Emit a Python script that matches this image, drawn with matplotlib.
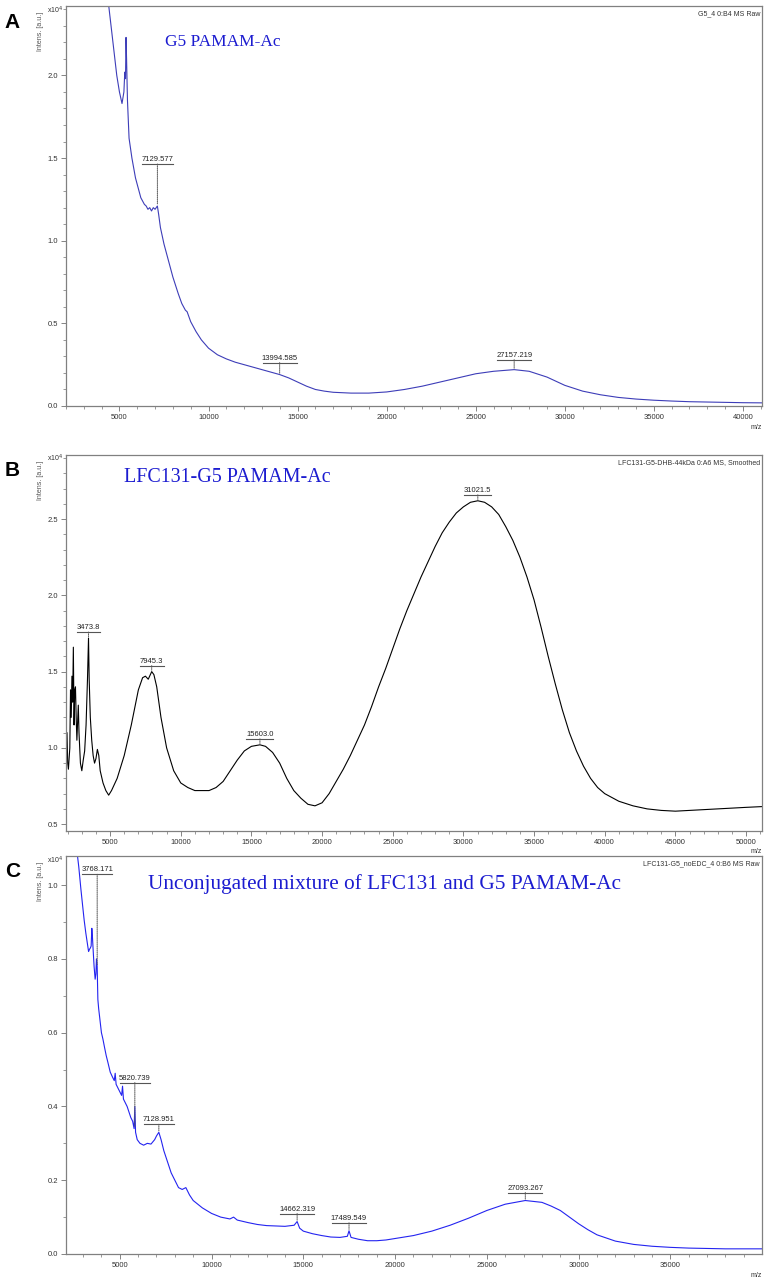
import matplotlib
matplotlib.use("Agg")
import matplotlib.pyplot as plt
import matplotlib.transforms as mtransforms
from matplotlib.ticker import MultipleLocator, FormatStrFormatter

plt.rcParams['font.family'] = ['Liberation Sans', 'DejaVu Sans']

# Panel A: G5 PAMAM-Ac (m/z, intensity x10^4)
a_points = [
    (4400, 2.42), (4550, 2.28), (4700, 2.14), (4850, 2.0), (5000, 1.9),
    (5144, 1.83), (5250, 1.9), (5300, 2.02), (5340, 1.98), (5370, 2.23),
    (5400, 2.1), (5450, 1.85), (5540, 1.62), (5700, 1.5), (5900, 1.38),
    (6000, 1.34), (6100, 1.3), (6200, 1.26), (6300, 1.24), (6400, 1.22),
    (6500, 1.21), (6600, 1.19), (6700, 1.2), (6800, 1.18), (6900, 1.2),
    (7000, 1.19), (7129, 1.21), (7200, 1.16), (7300, 1.08), (7500, 0.98),
    (7700, 0.9), (8000, 0.78), (8300, 0.68), (8500, 0.62), (8700, 0.58),
    (8800, 0.57), (9000, 0.51), (9300, 0.45), (9600, 0.4), (10000, 0.35),
    (10500, 0.31), (11000, 0.285), (11500, 0.265), (12000, 0.25), (12500, 0.235),
    (13000, 0.22), (13500, 0.205), (14000, 0.19), (14500, 0.17), (15000, 0.145),
    (15500, 0.12), (16000, 0.1), (16500, 0.09), (17000, 0.083), (18000, 0.078),
    (19000, 0.078), (20000, 0.085), (21000, 0.1), (22000, 0.12), (23000, 0.145),
    (24000, 0.17), (25000, 0.195), (26000, 0.21), (27157, 0.22), (28000, 0.21),
    (29000, 0.175), (30000, 0.125), (31000, 0.09), (32000, 0.068), (33000, 0.052),
    (34000, 0.042), (35000, 0.035), (36000, 0.03), (37000, 0.026), (38000, 0.024),
    (39000, 0.022), (40000, 0.02), (41070, 0.019),
]
a_peaks = [(7129.577, 1.21, "7129.577", 42), (13994.585, 0.19, "13994.585", 12),
           (27157.219, 0.22, "27157.219", 10)]

# Panel B: LFC131-G5 PAMAM-Ac
b_points = [
    (1880, 1.0), (1950, 1.1), (2000, 0.9), (2050, 0.86), (2150, 1.0),
    (2200, 1.38), (2250, 1.2), (2300, 1.47), (2350, 1.3), (2400, 1.66),
    (2450, 1.15), (2500, 1.38), (2550, 1.4), (2600, 1.2), (2650, 1.05),
    (2750, 1.28), (2800, 1.1), (2900, 0.9), (3000, 0.85), (3100, 0.92),
    (3200, 0.98), (3300, 1.15), (3400, 1.45), (3473, 1.72), (3520, 1.45),
    (3600, 1.2), (3700, 1.05), (3800, 0.95), (3900, 0.9), (4000, 0.93),
    (4100, 0.99), (4200, 0.95), (4300, 0.85), (4500, 0.77), (4700, 0.72),
    (4900, 0.69), (5100, 0.72), (5500, 0.8), (6000, 0.95), (6500, 1.15),
    (7000, 1.38), (7300, 1.46), (7500, 1.47), (7700, 1.45), (7945, 1.5),
    (8100, 1.48), (8300, 1.4), (8600, 1.2), (9000, 1.0), (9500, 0.85),
    (10000, 0.77), (10500, 0.74), (11000, 0.72), (11500, 0.72), (12000, 0.72),
    (12500, 0.74), (13000, 0.78), (13500, 0.85), (14000, 0.92), (14500, 0.98),
    (15000, 1.01), (15603, 1.02), (16000, 1.01), (16500, 0.97), (17000, 0.9),
    (17500, 0.8), (18000, 0.72), (18500, 0.67), (19000, 0.63), (19500, 0.62),
    (20000, 0.64), (20500, 0.7), (21000, 0.78), (21500, 0.86), (22000, 0.95),
    (22500, 1.05), (23000, 1.15), (23500, 1.27), (24000, 1.4), (24500, 1.52),
    (25000, 1.65), (25500, 1.78), (26000, 1.9), (26500, 2.01), (27000, 2.12),
    (27500, 2.22), (28000, 2.32), (28500, 2.41), (29000, 2.48), (29500, 2.54),
    (30000, 2.58), (30500, 2.61), (31021, 2.62), (31500, 2.61), (32000, 2.58),
    (32500, 2.53), (33000, 2.45), (33500, 2.36), (34000, 2.25), (34500, 2.12),
    (35000, 1.97), (35500, 1.79), (36000, 1.6), (36500, 1.42), (37000, 1.25),
    (37500, 1.1), (38000, 0.98), (38500, 0.88), (39000, 0.8), (39500, 0.74),
    (40000, 0.7), (41000, 0.65), (42000, 0.62), (43000, 0.6), (44000, 0.59),
    (45000, 0.585), (46000, 0.59), (47000, 0.595), (48000, 0.6), (49000, 0.605),
    (50000, 0.61), (51130, 0.615),
]
b_peaks = [(3473.8, 1.72, "3473.8", 6), (7945.3, 1.5, "7945.3", 6),
           (15603.0, 1.02, "15603.0", 6), (31021.5, 2.62, "31021.5", 6)]

# Panel C: unconjugated mixture
c_points = [
    (2600, 1.12), (2765, 1.05), (2880, 0.99), (2985, 0.94), (3060, 0.905),
    (3150, 0.87), (3258, 0.834), (3300, 0.82), (3350, 0.826), (3400, 0.83),
    (3440, 0.835), (3477, 0.883), (3510, 0.86), (3548, 0.825), (3600, 0.78),
    (3658, 0.745), (3700, 0.76), (3730, 0.8), (3768, 0.78), (3806, 0.69),
    (3850, 0.665), (3894, 0.646), (4000, 0.6), (4080, 0.583), (4170, 0.56),
    (4260, 0.538), (4350, 0.52), (4480, 0.493), (4600, 0.48), (4700, 0.47),
    (4750, 0.49), (4800, 0.46), (4900, 0.45), (5000, 0.44), (5100, 0.43),
    (5150, 0.455), (5200, 0.42), (5300, 0.41), (5400, 0.4), (5500, 0.385),
    (5600, 0.37), (5700, 0.36), (5780, 0.34), (5820, 0.40), (5860, 0.33),
    (5950, 0.31), (6100, 0.3), (6300, 0.295), (6500, 0.3), (6700, 0.298),
    (6900, 0.31), (7000, 0.32), (7128, 0.33), (7250, 0.31), (7400, 0.28),
    (7600, 0.25), (7800, 0.22), (8000, 0.2), (8200, 0.18), (8400, 0.175),
    (8600, 0.18), (8800, 0.16), (9000, 0.145), (9500, 0.125), (10000, 0.11),
    (10500, 0.1), (11000, 0.095), (11200, 0.1), (11400, 0.092), (12000, 0.085),
    (12500, 0.08), (13000, 0.077), (13500, 0.076), (14000, 0.075), (14500, 0.078),
    (14662, 0.088), (14800, 0.07), (15000, 0.062), (15500, 0.055), (16000, 0.05),
    (16500, 0.046), (17000, 0.045), (17400, 0.048), (17489, 0.063), (17600, 0.045),
    (18000, 0.04), (18500, 0.036), (19000, 0.036), (19500, 0.038), (20000, 0.042),
    (21000, 0.05), (22000, 0.062), (23000, 0.078), (24000, 0.097), (25000, 0.118),
    (26000, 0.135), (27093, 0.145), (28000, 0.14), (28500, 0.13), (29000, 0.118),
    (29500, 0.1), (30000, 0.082), (30500, 0.066), (31000, 0.052), (32000, 0.035),
    (33000, 0.026), (34000, 0.021), (35000, 0.018), (36000, 0.016), (37000, 0.015),
    (38000, 0.014), (39000, 0.014), (40000, 0.014),
]
c_peaks = [(3768.171, 0.78, "3768.171", 92), (5820.739, 0.34, "5820.739", 46),
           (7128.951, 0.33, "7128.951", 8), (14662.319, 0.088, "14662.319", 8),
           (17489.549, 0.063, "17489.549", 8), (27093.267, 0.145, "27093.267", 8)]

W, H = 765, 1279
fig = plt.figure(figsize=(W / 100, H / 100), dpi=100)


def make_axes(top, bottom):
    return fig.add_axes([66 / W, 1 - bottom / H, 696 / W, (bottom - top) / H])


def style(ax, xlim, ylim, ymajor, info, letter):
    ax.set_xlim(*xlim)
    ax.set_ylim(*ylim)
    ax.xaxis.set_major_locator(MultipleLocator(5000))
    ax.xaxis.set_minor_locator(MultipleLocator(1000))
    ax.yaxis.set_major_locator(MultipleLocator(ymajor))
    ax.yaxis.set_minor_locator(MultipleLocator(0.1))
    ax.yaxis.set_major_formatter(FormatStrFormatter('%.1f'))
    ax.tick_params(which='both', direction='out', color='#707070',
                   labelsize=5.5, labelcolor='#333333', pad=2)
    ax.tick_params(which='major', length=3.5, width=0.6)
    ax.tick_params(which='minor', length=2, width=0.5)
    for s in ax.spines.values():
        s.set_color('#808080')
        s.set_linewidth(0.9)
    ax.text(0.997, 0.99, info, transform=ax.transAxes, ha='right', va='top',
            fontsize=5, color='#333333')
    ax.text(-0.036, 0.985, "Intens. [a.u.]", transform=ax.transAxes, rotation=90,
            ha='center', va='top', fontsize=5, color='#555555')
    ax.text(-0.004, 0.99, "x10$^4$", transform=ax.transAxes, ha='right',
            va='center', fontsize=5, color='#333333')
    ax.text(1.0, -0.045, "m/z", transform=ax.transAxes, ha='right', va='top',
            fontsize=5, color='#333333')
    ax.text(-0.077, 0.96, letter, transform=ax.transAxes, ha='center',
            va='center', fontsize=15, fontweight='bold')


def mark(ax, peaks):
    x0, x1 = ax.get_xlim()
    per_px = (x1 - x0) / 696
    for x, y, label, lift in peaks:
        off = mtransforms.offset_copy(ax.transData, fig=fig, x=0, y=lift, units='dots')
        off_t = mtransforms.offset_copy(ax.transData, fig=fig, x=0, y=lift + 1, units='dots')
        hw = (len(label) * 3.3 / 2 + 2) * per_px
        ax.plot([x - hw, x + hw], [y, y], transform=off, color='#555555', lw=0.8)
        ax.text(x, y, label, transform=off_t, ha='center', va='bottom',
                fontsize=5.5, color='#222222')
        ax.annotate('', xy=(x, y), xytext=(0, lift * 72 / 100), textcoords='offset points',
                    arrowprops=dict(arrowstyle='-', linestyle=(0, (1, 1)), color='#555555',
                                    lw=0.7, shrinkA=0, shrinkB=1))


serif = ['Liberation Serif', 'DejaVu Serif']

ax_a = make_axes(6, 406)
a_mz, a_int = zip(*a_points)
ax_a.plot(a_mz, a_int, color='#3d3db8', lw=0.8)
style(ax_a, (2000, 41070), (0, 2.42), 0.5, "G5_4 0:B4 MS Raw", "A")
mark(ax_a, a_peaks)
ax_a.text(99 / 696, 1 - 36 / 400, "G5 PAMAM-Ac", transform=ax_a.transAxes,
          family=serif, fontsize=12.5, color='#1c1cd0', ha='left', va='center')

ax_b = make_axes(455, 831)
b_mz, b_int = zip(*b_points)
ax_b.plot(b_mz, b_int, color='black', lw=0.8)
style(ax_b, (1880, 51130), (0.455, 2.92), 0.5, "LFC131-G5-DHB-44kDa 0:A6 MS, Smoothed", "B")
mark(ax_b, b_peaks)
ax_b.text(58 / 696, 1 - 23 / 376, "LFC131-G5 PAMAM-Ac", transform=ax_b.transAxes,
          family=serif, fontsize=14.4, color='#1c1cd0', ha='left', va='center')

ax_c = make_axes(856, 1254)
c_mz, c_int = zip(*c_points)
ax_c.plot(c_mz, c_int, color='#2424f0', lw=0.8)
style(ax_c, (2070, 39990), (0, 1.079), 0.2, "LFC131-G5_noEDC_4 0:B6 MS Raw", "C")
mark(ax_c, c_peaks)
ax_c.text(82 / 696, 1 - 28 / 398, "Unconjugated mixture of LFC131 and G5 PAMAM-Ac",
          transform=ax_c.transAxes, family=serif, fontsize=15.3, color='#1c1cd0',
          ha='left', va='center')

fig.savefig("out.png", dpi=100)
